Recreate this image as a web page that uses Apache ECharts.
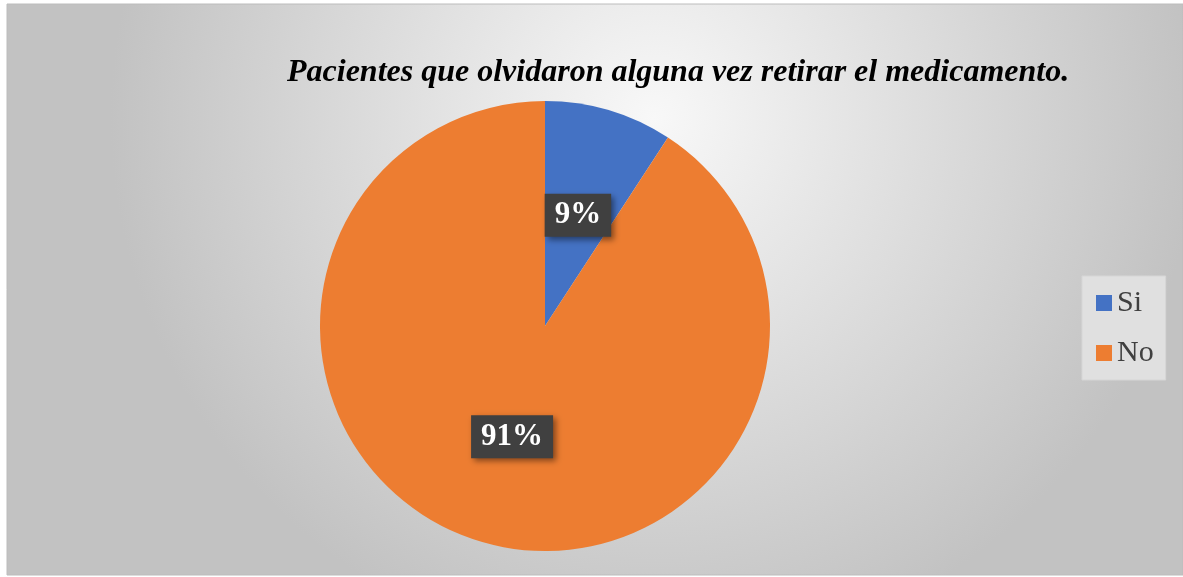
<!DOCTYPE html>
<html>
<head>
<meta charset="utf-8">
<style>
  html, body { margin: 0; padding: 0; background: #fff; }
  #main { width: 1183px; height: 577px; }
</style>
<script src="https://cdn.jsdelivr.net/npm/echarts@6/dist/echarts.min.js"></script>
</head>
<body>
<div id="main"></div>
<script>
// data
var categories = ['Si', 'No'];
var values = [9.2, 90.8];
var colors = ['#4472C4', '#ED7D31'];

var myChart = echarts.init(document.getElementById('main'));

var option = {
  animation: false,
  graphic: [
    {
      type: 'rect',
      shape: { x: 7, y: 4, width: 1176, height: 571 },
      style: {
        fill: {
          type: 'radial', x: 0.55, y: 0.2, r: 0.95,
          colorStops: [
            { offset: 0, color: '#f8f8f8' },
            { offset: 1, color: '#c2c2c2' }
          ]
        },
        stroke: '#bcbcbc',
        lineWidth: 1
      },
      z: -10
    }
  ],
  title: {
    text: 'Pacientes que olvidaron alguna vez retirar el medicamento.',
    left: 282,
    top: 52,
    textStyle: {
      fontFamily: 'Liberation Serif',
      fontStyle: 'italic',
      fontWeight: 'bold',
      fontSize: 32,
      color: '#000'
    }
  },
  legend: {
    orient: 'vertical',
    left: 1082,
    top: 276,
    data: categories,
    itemWidth: 16,
    itemHeight: 16,
    itemGap: 20,
    padding: [12, 12, 12, 14],
    backgroundColor: '#e0e0e0',
    borderColor: '#d6d6d6',
    borderWidth: 1,
    icon: 'rect',
    textStyle: {
      fontFamily: 'Liberation Serif',
      fontSize: 30,
      color: '#404040'
    }
  },
  series: [
    {
      type: 'pie',
      center: [545, 326],
      radius: 225,
      startAngle: 90,
      clockwise: true,
      data: categories.map(function (c, i) {
        return { name: c, value: values[i], itemStyle: { color: colors[i] } };
      }),
      label: {
        position: 'inside',
        formatter: function (p) { return Math.round(p.percent) + '%'; },
        fontFamily: 'Liberation Serif',
        fontWeight: 'bold',
        fontSize: 31,
        color: '#fff',
        backgroundColor: '#404040',
        padding: [7, 10, 5, 10],
        shadowColor: 'rgba(0,0,0,0.45)',
        shadowBlur: 6,
        shadowOffsetX: 3,
        shadowOffsetY: 3
      },
      labelLine: { show: false },
      emphasis: { disabled: true }
    }
  ]
};

myChart.setOption(option);
</script>
</body>
</html>
